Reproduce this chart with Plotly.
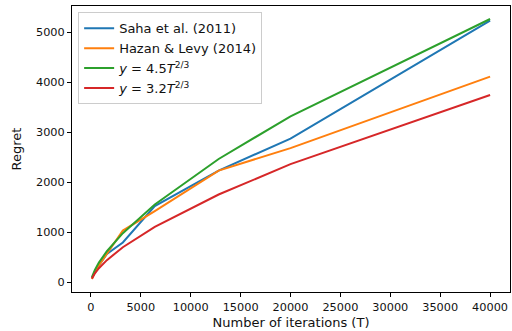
import plotly.graph_objects as go

T = [100, 200, 400, 800, 1600, 3200, 6400, 12800, 20000, 40000]
saha = [70, 120, 200, 330, 560, 790, 1520, 2230, 2870, 5230]
hazan = [60, 110, 190, 330, 570, 1030, 1420, 2230, 2680, 4110]
fit45 = [97, 154, 244, 388, 616, 977, 1551, 2462, 3316, 5263]
fit32 = [69, 109, 174, 276, 438, 695, 1103, 1751, 2358, 3743]
xticks = [0, 5000, 10000, 15000, 20000, 25000, 30000, 35000, 40000]
yticks = [0, 1000, 2000, 3000, 4000, 5000]

names = ["Saha et al. (2011)", "Hazan &amp; Levy (2014)",
         "<i>y</i> = 4.5<i>T</i><sup>2/3</sup>", "<i>y</i> = 3.2<i>T</i><sup>2/3</sup>"]
colors = ["#1f77b4", "#ff7f0e", "#2ca02c", "#d62728"]
series = [saha, hazan, fit45, fit32]

fig = go.Figure()
for n, c, s in zip(names, colors, series):
    fig.add_trace(go.Scatter(x=T, y=s, mode="lines", name=n,
                             line=dict(color=c, width=2)))

tickfont = dict(family="DejaVu Sans", size=11.3, color="#111111")
titlefont = dict(family="DejaVu Sans", size=13, color="#111111")
axis = dict(showline=True, linecolor="black", linewidth=1, mirror=True,
            ticks="outside", ticklen=4, tickcolor="black", showgrid=False,
            zeroline=False, tickfont=tickfont)
fig.update_layout(
    width=512, height=331,
    margin=dict(l=72, r=2, t=6, b=39),
    paper_bgcolor="white", plot_bgcolor="white",
    font=tickfont,
    xaxis=dict(axis, range=[-1895, 41995], tickvals=xticks,
               ticktext=[str(v) for v in xticks],
               title=dict(text="Number of iterations (T)", font=titlefont, standoff=5)),
    yaxis=dict(axis, range=[-200, 5523], tickvals=yticks,
               ticktext=[str(v) for v in yticks],
               title=dict(text="Regret", font=titlefont, standoff=11)),
    legend=dict(x=0.014, y=0.978, xanchor="left", yanchor="top",
                bgcolor="rgba(255,255,255,0.8)", bordercolor="#cccccc",
                borderwidth=1, font=dict(family="DejaVu Sans", size=13, color="#111111"),
                tracegroupgap=0, itemwidth=30),
)
fig.write_html("out.html", config={"displayModeBar": False},
               post_script="document.body.style.margin='0';")
